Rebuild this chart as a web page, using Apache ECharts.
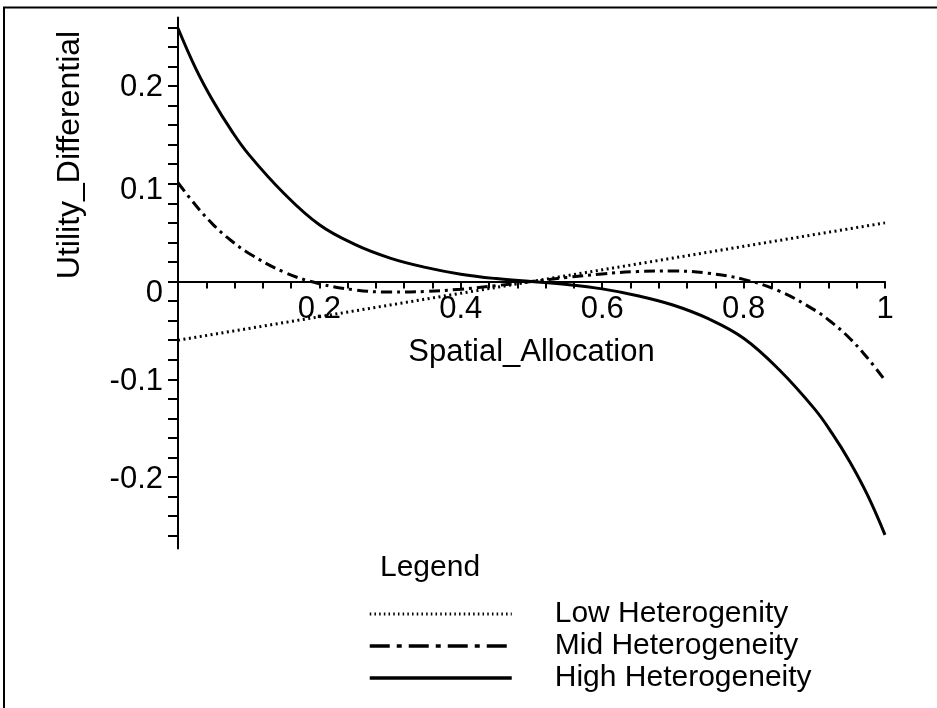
<!DOCTYPE html>
<html><head><meta charset="utf-8">
<script src="https://cdn.jsdelivr.net/npm/echarts@6/dist/echarts.min.js"></script>
<style>html,body{margin:0;padding:0;background:#fff}#c{width:937px;height:708px}</style>
</head><body><div id="c"></div>
<script>
const xValues    = [0, 0.025, 0.05, 0.075, 0.1, 0.15, 0.2, 0.25, 0.3, 0.35, 0.4, 0.45, 0.5, 0.55, 0.6, 0.65, 0.7, 0.75, 0.8, 0.85, 0.9, 0.925, 0.95, 0.975, 1];
const lowValues  = [-0.06, -0.057, -0.054, -0.051, -0.048, -0.042, -0.036, -0.030, -0.024, -0.018, -0.012, -0.006, 0, 0.006, 0.012, 0.018, 0.024, 0.030, 0.036, 0.042, 0.048, 0.051, 0.054, 0.057, 0.06];
const midValues  = [0.101, 0.078, 0.058, 0.042, 0.029, 0.0096, -0.0022, -0.0085, -0.0108, -0.0102, -0.0078, -0.0042, 0, 0.0042, 0.0078, 0.0102, 0.0108, 0.0085, 0.0022, -0.0096, -0.029, -0.042, -0.058, -0.078, -0.101];
const highValues = [0.259, 0.218, 0.184, 0.155, 0.130, 0.090, 0.058, 0.038, 0.024, 0.0145, 0.0075, 0.003, 0, -0.003, -0.0075, -0.0145, -0.024, -0.038, -0.058, -0.090, -0.130, -0.155, -0.184, -0.218, -0.259];
const seriesNames = ['Low Heterogenity', 'Mid Heterogeneity', 'High Heterogeneity'];
const xTickValues = [0.04, 0.08, 0.12, 0.16, 0.2, 0.24, 0.28, 0.32, 0.36, 0.4, 0.44, 0.48, 0.52, 0.56, 0.6, 0.64, 0.68, 0.72, 0.76, 0.8, 0.84, 0.88, 0.92, 0.96, 1];
const xLabelValues = [0.2, 0.4, 0.6, 0.8, 1];
const yTickValues = [-0.26, -0.24, -0.22, -0.2, -0.18, -0.16, -0.14, -0.12, -0.1, -0.08, -0.06, -0.04, -0.02, 0, 0.02, 0.04, 0.06, 0.08, 0.1, 0.12, 0.14, 0.16, 0.18, 0.2, 0.22, 0.24, 0.26];
const yLabelValues = [-0.2, -0.1, 0, 0.1, 0.2];
const xTitle = 'Spatial_Allocation';
const yTitle = 'Utility_Differential';
const legendTitle = 'Legend';

const FONT = "'Liberation Sans', Arial, sans-serif";
const FS = 31;
const Y_MIN = -0.273, Y_MAX = 0.27;
const GRID_H = 531;
// x axis sits on y = 0: shift it up from the grid bottom by the pixel distance of 0 above Y_MIN
const xAxisOffset = -GRID_H * (0 - Y_MIN) / (Y_MAX - Y_MIN);
const pairs = vals => xValues.map((x, i) => [x, vals[i]]);

const chart = echarts.init(document.getElementById('c'), null, {renderer: 'canvas'});
chart.setOption({
  backgroundColor: '#fff',
  animation: false,
  grid: {left: 178, right: 52, top: 17.5, height: GRID_H, containLabel: false},
  title: {text: legendTitle, left: 380, top: 553, padding: 0,
          textStyle: {fontFamily: FONT, fontSize: FS - 1, fontWeight: 'normal', color: '#000'}},
  legend: {
    orient: 'vertical', left: 368, top: 598, padding: 0, itemWidth: 142, itemHeight: 14, itemGap: 0,
    selectedMode: false,
    itemStyle: {opacity: 0, borderWidth: 0},
    textStyle: {fontFamily: FONT, fontSize: FS - 1, color: '#000', lineHeight: 32, padding: [0, 0, 0, 38]},
    data: [
      {name: seriesNames[0], lineStyle: {width: 3, type: [1.5, 3.2], color: '#000'}},
      {name: seriesNames[1], lineStyle: {width: 3.5, type: [20, 7, 5, 7], color: '#000'}},
      {name: seriesNames[2], lineStyle: {width: 3.5, type: 'solid', color: '#000'}}
    ]
  },
  xAxis: {
    type: 'value', min: 0, max: 1, position: 'bottom', offset: xAxisOffset,
    axisLine: {onZero: false, lineStyle: {color: '#000', width: 2}},
    axisTick: {show: true, length: 7, lineStyle: {color: '#000', width: 2}, customValues: xTickValues},
    axisLabel: {customValues: xLabelValues, margin: 12, color: '#000', fontFamily: FONT, fontSize: FS, formatter: v => String(v)},
    splitLine: {show: false},
    name: xTitle, nameLocation: 'middle', nameGap: 55,
    nameTextStyle: {fontFamily: FONT, fontSize: FS, color: '#000'}
  },
  yAxis: {
    type: 'value', min: Y_MIN, max: Y_MAX,
    axisLine: {onZero: false, lineStyle: {color: '#000', width: 2}},
    axisTick: {show: true, length: 10, lineStyle: {color: '#000', width: 2}, customValues: yTickValues},
    axisLabel: {
      customValues: yLabelValues, margin: 15, color: '#000', fontFamily: FONT, fontSize: FS,
      formatter: v => v === 0 ? '{z|0}' : (v === 0.1 ? '{o|0.1}' : '{n|' + String(v) + '}'),
      rich: {
        z: {fontFamily: FONT, fontSize: FS, color: '#000', padding: [24, 0, 0, 0]},
        o: {fontFamily: FONT, fontSize: FS, color: '#000', padding: [14, 0, 0, 0]},
        n: {fontFamily: FONT, fontSize: FS, color: '#000', padding: [4, 0, 0, 0]}
      }
    },
    splitLine: {show: false}
  },
  graphic: [
    {type: 'rect', shape: {x: 4, y: 7.5, width: 2000, height: 2000}, style: {fill: null, stroke: '#000', lineWidth: 2}, silent: true},
    {type: 'text', x: 70, y: 155, rotation: Math.PI / 2,
     style: {text: yTitle, fontFamily: FONT, fontSize: FS + 1, fill: '#000', align: 'center', verticalAlign: 'middle'}}
  ],
  series: [
    {name: seriesNames[0], type: 'line', data: pairs(lowValues), symbol: 'none', smooth: false,
     lineStyle: {color: '#000', width: 3, type: [2, 3.5]}, z: 3},
    {name: seriesNames[1], type: 'line', data: pairs(midValues), symbol: 'none', smooth: 0.4,
     lineStyle: {color: '#000', width: 3, type: [11, 5, 3, 5]}, z: 4},
    {name: seriesNames[2], type: 'line', data: pairs(highValues), symbol: 'none', smooth: 0.4,
     lineStyle: {color: '#000', width: 3, type: 'solid'}, z: 5}
  ]
});
</script>
</body></html>
